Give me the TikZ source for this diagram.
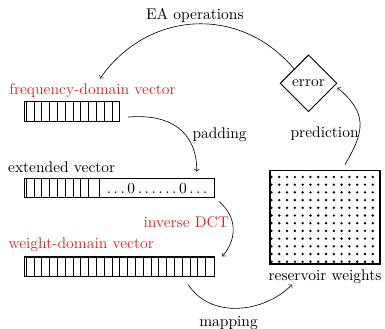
\documentclass[tikz,border=0pt]{standalone}
\usetikzlibrary{positioning,shapes.geometric,calc}
\definecolor{labred}{HTML}{D42A2A}

\begin{document}
\begin{tikzpicture}[
  vec/.style={draw, line width=0.7pt, minimum height=0.44cm, inner sep=0pt},
  cell/.style={line width=0.4pt},
  lab/.style={text=labred},
  dec/.style={diamond, draw, semithick, minimum size=1.29cm, inner sep=0pt}]
  \useasboundingbox (0,0) rectangle (8.743,7.449);
  % vectors
  \node[vec, minimum width=2.157cm] (freq) at (1.631,4.920) {};
  \node[vec, minimum width=4.315cm] (ext) at (2.709,3.179) {};
  \node[vec, minimum width=4.315cm] (wgt) at (2.709,1.393) {};
  \node[lab] (freqlab) at (2.101,5.382) {frequency-domain vector};
  \node (extlab) at (1.401,3.645) {extended vector};
  \node[lab] (wgtlab) at (1.844,1.885) {weight-domain vector};
  \foreach \k in {0,...,11}
    \draw[cell] ([xshift={0.0545cm+\k*0.177cm}]freq.south west) -- ++(0,0.44);
  \foreach \k in {0,...,8}
    \draw[cell] ([xshift={0.0545cm+\k*0.177cm}]ext.south west) -- ++(0,0.44);
  \foreach \k in {0,...,23}
    \draw[cell] ([xshift={0.0545cm+\k*0.177cm}]wgt.south west) -- ++(0,0.44);
  % zero part of the extended vector
  \coordinate (cut) at ([xshift=1.719cm]ext.south west);
  \draw[cell] (cut) -- (cut |- ext.north);
  \node (zeros) at ($(cut)!0.5!(ext.north east)$) {$\ldots0\ldots\ldots0\ldots$};
  % reservoir
  \node[vec, minimum width=2.498cm, minimum height=2.123cm] (res) at (7.381,2.515) {};
  \foreach \i in {0,...,13}
    \foreach \j in {0,...,11}
      \fill ([xshift={0.045cm+\i*0.177cm}, yshift={0.064cm+\j*0.175cm}]res.south west) circle (0.85pt);
  \node[below=0pt of res] (reslab) {reservoir weights};
  \node[dec] (err) at (7.006,5.557) {error};
  % loop
  \draw[->] (err.north west) to[out=130, in=55, looseness=1.1] node[above, inner sep=1pt] {EA operations} ([xshift=0.17cm]freqlab.north);
  \draw[->] ([xshift=0.18cm,yshift=-0.13cm]freq.east) to[out=5, in=90, looseness=1.2] node[pos=.62, right=1pt] {padding} ([xshift=-0.41cm,yshift=0.14cm]ext.north east);
  \draw[->] ([xshift=0.09cm,yshift=-0.07cm]ext.south east) to[out=-40, in=50, looseness=1.1] node[pos=.4, left, inner sep=1.9pt, lab] {inverse DCT} ([xshift=0.17cm]wgt.north east);
  \draw[->] ([xshift=-0.6cm,yshift=-0.18cm]wgt.south east) to[out=-57, in=-135] node[pos=.42, below=2pt] {mapping} ([xshift=0.66cm,yshift=0.11cm]reslab.south west);
  \draw[->] ([xshift=0.45cm,yshift=0.12cm]res.north) to[out=59, in=-40, looseness=1.3] node[pos=.35, left, inner sep=0pt] {prediction} ([yshift=-0.1cm]err.east);
\end{tikzpicture}
\end{document}
